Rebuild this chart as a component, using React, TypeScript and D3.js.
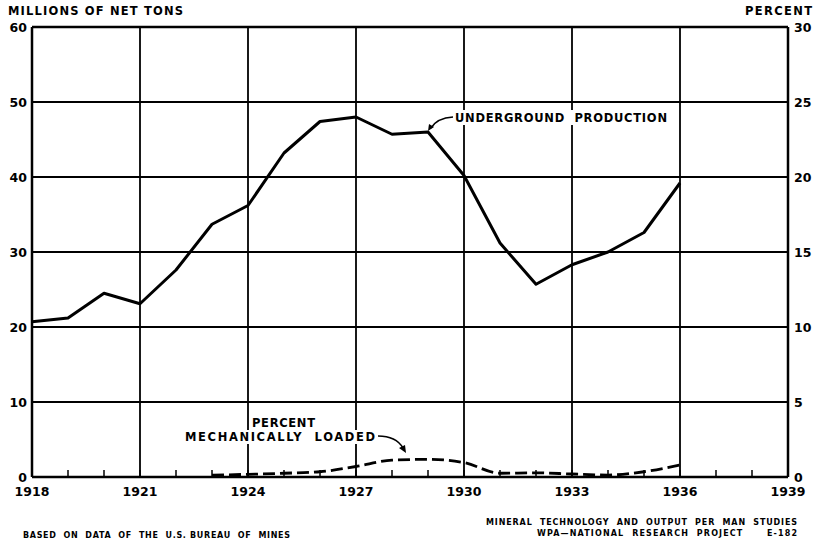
import React from "react";
import * as d3 from "d3";

const years = [1918, 1919, 1920, 1921, 1922, 1923, 1924, 1925, 1926, 1927, 1928, 1929, 1930, 1931, 1932, 1933, 1934, 1935, 1936];
const production = [20.7, 21.2, 24.5, 23.1, 27.6, 33.7, 36.2, 43.2, 47.4, 48.0, 45.7, 46.0, 40.2, 31.2, 25.7, 28.3, 30.0, 32.6, 39.2];
const mechYears = [1923, 1924, 1925, 1926, 1927, 1928, 1929, 1930, 1931, 1932, 1933, 1934, 1935, 1936];
const mechPercent = [0.12, 0.18, 0.25, 0.35, 0.7, 1.12, 1.18, 0.96, 0.25, 0.28, 0.2, 0.13, 0.35, 0.8];
const xTicks = [1918, 1921, 1924, 1927, 1930, 1933, 1936, 1939];
const leftTicks = [0, 10, 20, 30, 40, 50, 60];
const rightTicks = [0, 5, 10, 15, 20, 25, 30];

const W = 814, H = 543;
const L = 32, R = 788, T = 27, B = 477;
const FONT = "'DejaVu Sans', 'Liberation Sans', sans-serif";

export default function App() {
  const x = d3.scaleLinear().domain([1918, 1939]).range([L, R]);
  const yL = d3.scaleLinear().domain([0, 60]).range([B, T]);
  const yR = d3.scaleLinear().domain([0, 30]).range([B, T]);
  const minorYears = d3.range(1918, 1940);

  const prodLine = d3.line<number>().x((_, i) => x(years[i])).y((d) => yL(d))(production) || "";
  const mechLine = d3.line<number>().curve(d3.curveMonotoneX).x((_, i) => x(mechYears[i])).y((d) => yR(d))(mechPercent) || "";

  const txt = { fontFamily: FONT, fontWeight: 700, fill: "#000", style: { whiteSpace: "pre" as const } };

  return (
    <svg width={W} height={H} style={{ position: "absolute", left: 0, top: 0, background: "#fff" }}>
      <rect x={0} y={0} width={W} height={H} fill="#fff" />
      {/* grid */}
      {leftTicks.map((t) => (
        <line key={"h" + t} x1={L} x2={R} y1={yL(t)} y2={yL(t)} stroke="#000" strokeWidth={t === 0 || t === 60 ? 2.5 : 1.8} />
      ))}
      {xTicks.map((t) => (
        <line key={"v" + t} x1={x(t)} x2={x(t)} y1={T} y2={B} stroke="#000" strokeWidth={t === 1918 || t === 1939 ? 2.5 : 1.8} />
      ))}
      {minorYears.map((t) => (
        <line key={"m" + t} x1={x(t)} x2={x(t)} y1={B} y2={B - 7} stroke="#000" strokeWidth={1.5} />
      ))}
      {/* tick labels */}
      {leftTicks.map((t) => (
        <text key={"l" + t} x={27} y={yL(t) + 4.5} textAnchor="end" fontSize={12.5} {...txt}>{t}</text>
      ))}
      {rightTicks.map((t) => (
        <text key={"r" + t} x={794} y={yR(t) + 4.5} textAnchor="start" fontSize={12.5} {...txt}>{t}</text>
      ))}
      {xTicks.map((t) => (
        <text key={"x" + t} x={x(t)} y={496} textAnchor="middle" fontSize={12.5} {...txt}>{t}</text>
      ))}
      {/* axis titles */}
      <text x={8} y={15} fontSize={11.5} {...txt} textLength={175} lengthAdjust="spacing">MILLIONS OF NET TONS</text>
      <text x={745} y={15} fontSize={11.5} {...txt} textLength={67} lengthAdjust="spacing">PERCENT</text>
      {/* series */}
      <path d={prodLine} fill="none" stroke="#000" strokeWidth={3} strokeLinejoin="round" />
      <path d={mechLine} fill="none" stroke="#000" strokeWidth={2.8} strokeDasharray="12,5" />
      {/* annotations */}
      <rect x={453} y={110} width={216} height={15} fill="#fff" />
      <text x={455} y={122} fontSize={11.5} {...txt} textLength={212} lengthAdjust="spacing">UNDERGROUND  PRODUCTION</text>
      <path d="M453,117 Q437,118 431,128" fill="none" stroke="#000" strokeWidth={1.5} />
      <path d="M428,131 L429,124 L434,127 Z" fill="#000" />
      <rect x={250} y={416} width={68} height={13} fill="#fff" />
      <rect x={183} y={430} width={195} height={14} fill="#fff" />
      <text x={252} y={427} fontSize={11.5} {...txt} textLength={63} lengthAdjust="spacing">PERCENT</text>
      <text x={185} y={441} fontSize={11.5} {...txt} textLength={190} lengthAdjust="spacing">MECHANICALLY  LOADED</text>
      <path d="M378,436 Q396,436 403,448" fill="none" stroke="#000" strokeWidth={1.5} />
      <path d="M406,453 L399,448 L405,445 Z" fill="#000" />
      {/* footnotes */}
      <text x={23} y={538} fontSize={8} {...txt} textLength={267} lengthAdjust="spacing">BASED  ON  DATA  OF  THE  U.S. BUREAU  OF  MINES</text>
      <text x={486} y={525} fontSize={8} {...txt} textLength={311} lengthAdjust="spacing">MINERAL  TECHNOLOGY  AND  OUTPUT  PER  MAN  STUDIES</text>
      <text x={537} y={536} fontSize={8} {...txt} textLength={260} lengthAdjust="spacing">WPA—NATIONAL  RESEARCH  PROJECT      E-182</text>
    </svg>
  );
}
